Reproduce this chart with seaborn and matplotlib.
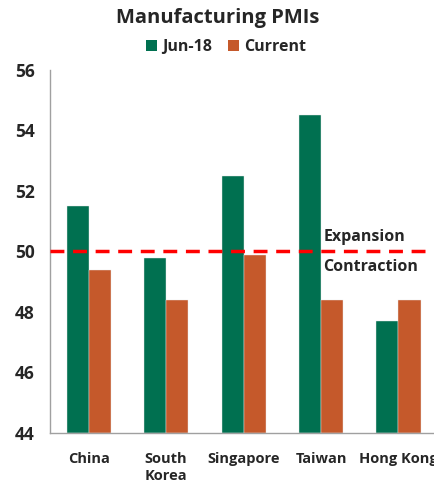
import matplotlib
matplotlib.use("Agg")
import matplotlib.pyplot as plt
import seaborn as sns
import pandas as pd
import numpy as np

categories = ["China", "South\nKorea", "Singapore", "Taiwan", "Hong Kong"]
jun18 = [51.5, 49.8, 52.5, 54.5, 47.7]
current = [49.4, 48.4, 49.9, 48.4, 48.4]
series_names = ["Jun-18", "Current"]
yticks = [44, 46, 48, 50, 52, 54, 56]

sns.set_theme(style="white")
plt.rcParams['font.family'] = ['Open Sans', 'DejaVu Sans']
plt.rcParams['font.weight'] = 'bold'

df = pd.DataFrame({
    "Country": categories * 2,
    "Series": [series_names[0]] * len(categories) + [series_names[1]] * len(categories),
    "Value": jun18 + current,
})

fig = plt.figure(figsize=(4.35, 4.82), dpi=100)
ax = fig.add_axes([0.115, 0.1017, 0.89, 0.7531])

palette = {"Jun-18": "#007050", "Current": "#C5592B"}
sns.barplot(data=df, x="Country", y="Value", hue="Series", palette=palette,
            width=0.57, ax=ax, legend=False, saturation=1, edgecolor="#E8E8E8", linewidth=0.3)

ax.set_ylim(44, 56)
for p in ax.patches:
    top = p.get_y() + p.get_height()
    p.set_y(44)
    p.set_height(top - 44)

ax.set_xlim(-0.5, 4.5)
ax.set_yticks(yticks)
ax.set_yticklabels([str(t) for t in yticks], fontsize=12.5, fontweight='bold')
ax.set_xticks(range(len(categories)))
ax.set_xticklabels(categories, fontsize=10.5, fontweight='bold', va='top', linespacing=1.25)
ax.set_xticks(np.arange(-0.5, 5.0, 1.0), minor=True)
ax.tick_params(axis='x', which='major', length=0, pad=14)
ax.tick_params(axis='x', which='minor', length=5, color='#A0A0A0', width=1, direction='out')
ax.tick_params(axis='y', which='major', length=5, color='#A0A0A0', width=1, direction='out', pad=6)
ax.set_xlabel("")
ax.set_ylabel("")

for s in ["top", "right"]:
    ax.spines[s].set_visible(False)
for s in ["left", "bottom"]:
    ax.spines[s].set_color("#A0A0A0")
    ax.spines[s].set_linewidth(1)

ax.axhline(50, color="#FF0000", linestyle=(0, (4, 2.5)), linewidth=2.5, zorder=5)
ax.text(3.03, 50.22, "Expansion", fontsize=11.5, fontweight='bold', ha='left', va='bottom')
ax.text(3.03, 49.75, "Contraction", fontsize=11.5, fontweight='bold', ha='left', va='top')

fig.text(0.5, 0.962, "Manufacturing PMIs", ha='center', va='center', fontsize=14.5, fontweight='bold')

from matplotlib.patches import Patch
handles = [Patch(facecolor=palette[n], edgecolor='none') for n in series_names]
fig.legend(handles, series_names, loc='center', bbox_to_anchor=(0.52, 0.902), ncol=2,
           frameon=False, prop={'weight': 'bold', 'size': 11.5},
           handlelength=0.7, handleheight=0.7, handletextpad=0.3, columnspacing=1.0)

fig.savefig("out.png", dpi=100)
